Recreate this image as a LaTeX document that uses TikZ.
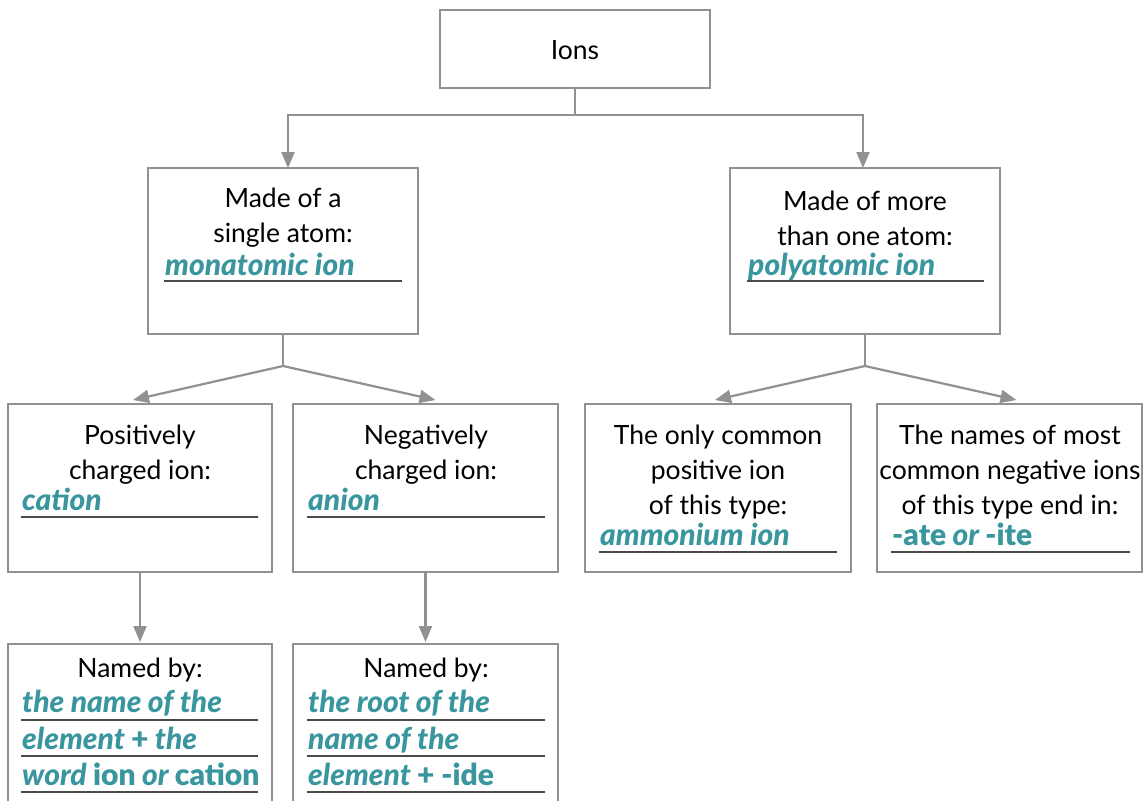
\documentclass[tikz,border=0pt]{standalone}
\usepackage{fontspec}
\setmainfont{Lato}
\newfontfamily\termfont{Lato}[ItalicFont={Lato Black Italic},UprightFont={Lato Black}]
\usepackage{xcolor}
\usetikzlibrary{arrows.meta,calc}

\definecolor{linegray}{RGB}{145,145,148}
\definecolor{rulegray}{RGB}{75,75,75}
\definecolor{termteal}{RGB}{58,150,158}

\tikzset{
  box/.style={draw=linegray,line width=2.5,anchor=north west,inner sep=0,outer sep=0},
  maintext/.style={font=\fontsize{26.5}{35}\selectfont,align=center,text=black,inner sep=0},
  keyterm/.style={font=\fontsize{30}{32}\selectfont\termfont\itshape,text=termteal,anchor=base west,inner sep=0},
  uline/.style={draw=rulegray,line width=1.6},
  link/.style={draw=linegray,line width=2.2,-{Triangle[length=16,width=13]}}
}

\begin{document}
\begin{tikzpicture}[x=1pt,y=-1pt]
  \clip (0,0) rectangle (1144,801);
  \fill[white] (0,0) rectangle (1144,801);

  % boxes
  \node[box,minimum width=270,minimum height=78] (ions) at (440,10) {};
  \node[box,minimum width=270,minimum height=166] (mono) at (148,168) {};
  \node[box,minimum width=270,minimum height=166] (poly) at (730,168) {};
  \node[box,minimum width=264,minimum height=168] (cat) at (8,404) {};
  \node[box,minimum width=265,minimum height=168] (an) at (293,404) {};
  \node[box,minimum width=266,minimum height=168] (amm) at (585,404) {};
  \node[box,minimum width=265,minimum height=168] (ate) at (877,404) {};
  \node[box,minimum width=264,minimum height=200] (catname) at (8,644) {};
  \node[box,minimum width=265,minimum height=200] (anname) at (293,644) {};

  % texts
  \node[maintext] (ionstxt) at (575,50) {Ions};

  \node[maintext] (monotxt) at (283,218) {Made of a\\single atom:};
  \node[keyterm] (monoterm) at (165,275) {monatomic ion};
  \draw[uline] (164,281) -- (402,281);

  \node[maintext] (polytxt) at (865,218) {Made of more\\than one atom:};
  \node[keyterm] (polyterm) at (748,275) {polyatomic ion};
  \draw[uline] (747,281) -- (984,281);

  \node[maintext] (cattxt) at (140,455) {Positively\\charged ion:};
  \node[keyterm] (catterm) at (22,510) {cation};
  \draw[uline] (21,517) -- (258,517);

  \node[maintext] (antxt) at (426,455) {Negatively\\charged ion:};
  \node[keyterm] (anterm) at (308,510) {anion};
  \draw[uline] (307,517) -- (545,517);

  \node[maintext] (ammtxt) at (718,472) {The only common\\positive ion\\of this type:};
  \node[keyterm] (ammterm) at (600,545) {ammonium ion};
  \draw[uline] (599,552) -- (837,552);

  \node[maintext] (atetxt) at (1010,472) {The names of most\\common negative ions\\of this type end in:};
  \node[keyterm] (ateterm) at (892,545) {{\upshape -ate} or {\upshape -ite}};
  \draw[uline] (891,552) -- (1130,552);

  \node[maintext] (catnametxt) at (140,670) {Named by:};
  \node[keyterm] (catname1) at (22,712) {the name of the};
  \node[keyterm] (catname2) at (22,749) {element {\upshape +} the};
  \node[keyterm] (catname3) at (22,785) {word {\upshape ion} or {\upshape cation}};
  \draw[uline] (21,720) -- (258,720);
  \draw[uline] (21,756) -- (258,756);
  \draw[uline] (21,792) -- (258,792);

  \node[maintext] (annametxt) at (426,670) {Named by:};
  \node[keyterm] (anname1) at (308,712) {the root of the};
  \node[keyterm] (anname2) at (308,749) {name of the};
  \node[keyterm] (anname3) at (308,785) {element {\upshape + -ide}};
  \draw[uline] (307,720) -- (545,720);
  \draw[uline] (307,756) -- (545,756);
  \draw[uline] (307,792) -- (545,792);

  % connectors
  \draw[linegray,line width=2.2] (ions.south) -- ++(0,27) coordinate (ionsplit);
  \draw[link] (ionsplit) -| ([xshift=5pt]mono.north);
  \draw[link] (ionsplit) -| ([xshift=-2pt]poly.north);

  \draw[linegray,line width=2.2] (mono.south) -- ++(0,32) coordinate (monosplit);
  \draw[link] (monosplit) -- ([shift={(-7,-4)}]cat.north);
  \draw[link] (monosplit) -- ([shift={(10,-4)}]an.north);

  \draw[linegray,line width=2.2] (poly.south) -- ++(0,32) coordinate (polysplit);
  \draw[link] (polysplit) -- ([shift={(-3,-4)}]amm.north);
  \draw[link] (polysplit) -- ([shift={(7,-4)}]ate.north);

  \draw[link,shorten >=2pt] (cat.south) -- (catname.north);
  \draw[link,shorten >=2pt] (an.south) -- (anname.north);
\end{tikzpicture}
\end{document}
